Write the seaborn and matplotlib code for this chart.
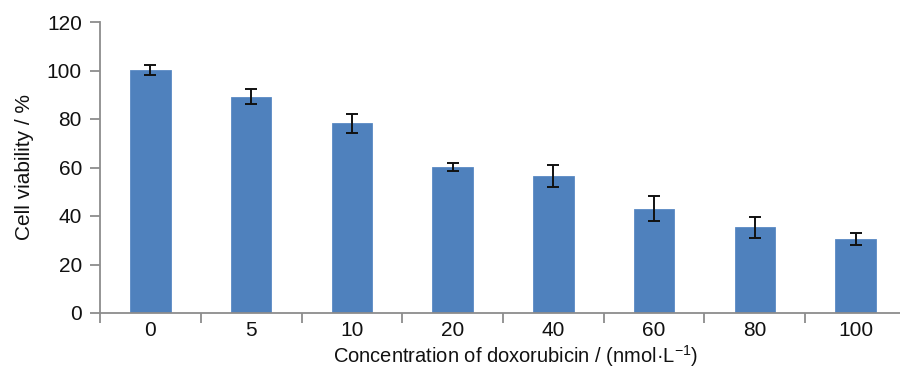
import matplotlib
matplotlib.use("Agg")
import matplotlib.pyplot as plt
import seaborn as sns
import pandas as pd
import numpy as np

categories = ["0", "5", "10", "20", "40", "60", "80", "100"]
viability = [100.2, 89.2, 78.2, 60.3, 56.5, 43.0, 35.3, 30.4]
errors = [2.1, 3.0, 3.9, 1.7, 4.6, 5.1, 4.3, 2.5]

sns.set_style("white")
plt.rcParams["font.family"] = ["Liberation Sans", "DejaVu Sans"]
plt.rcParams["mathtext.default"] = "regular"

df = pd.DataFrame({"conc": categories, "viability": viability, "err": errors})

fig = plt.figure(figsize=(9, 3.69), dpi=100)
ax = fig.add_axes([100 / 900, 1 - 313 / 369, 806 / 900, (313 - 22) / 369])

sns.barplot(data=df, x="conc", y="viability", order=categories, color="#4F81BD",
            saturation=1, width=0.4, errorbar=None, ax=ax, edgecolor="#5a8ac4", linewidth=0.6)
ax.errorbar(np.arange(len(categories)), df["viability"], yerr=df["err"], fmt="none",
            ecolor="#111111", elinewidth=1.4, capsize=4.2, capthick=1.4)

ax.set_ylim(0, 120)
ax.set_xlim(-0.5, len(categories) - 0.5)
ax.set_yticks(np.arange(0, 121, 20))
ax.set_xticks(np.arange(len(categories)))
ax.set_xticklabels(categories)

gray = "#8c8c8c"
for s in ["top", "right"]:
    ax.spines[s].set_visible(False)
for s in ["left", "bottom"]:
    ax.spines[s].set_color(gray)
    ax.spines[s].set_linewidth(1.3)

ax.tick_params(axis="y", direction="out", length=7, width=1.3, color=gray, left=True,
               labelsize=15, pad=6, labelcolor="#111111")
ax.tick_params(axis="x", which="major", length=0, labelsize=15, pad=6, labelcolor="#111111")
ax.set_xticks(np.arange(len(categories) + 1) - 0.5, minor=True)
ax.tick_params(axis="x", which="minor", direction="out", length=7, width=1.3, color=gray, bottom=True)

ax.set_ylabel("Cell viability / %", fontsize=15, color="#111111", labelpad=9)
ax.set_xlabel("Concentration of doxorubicin / (nmol·L$^{-1}$)", fontsize=14.5, color="#111111", labelpad=0)
ax.xaxis.set_label_coords(0.516, -0.104)

fig.savefig("out.png", dpi=100)
